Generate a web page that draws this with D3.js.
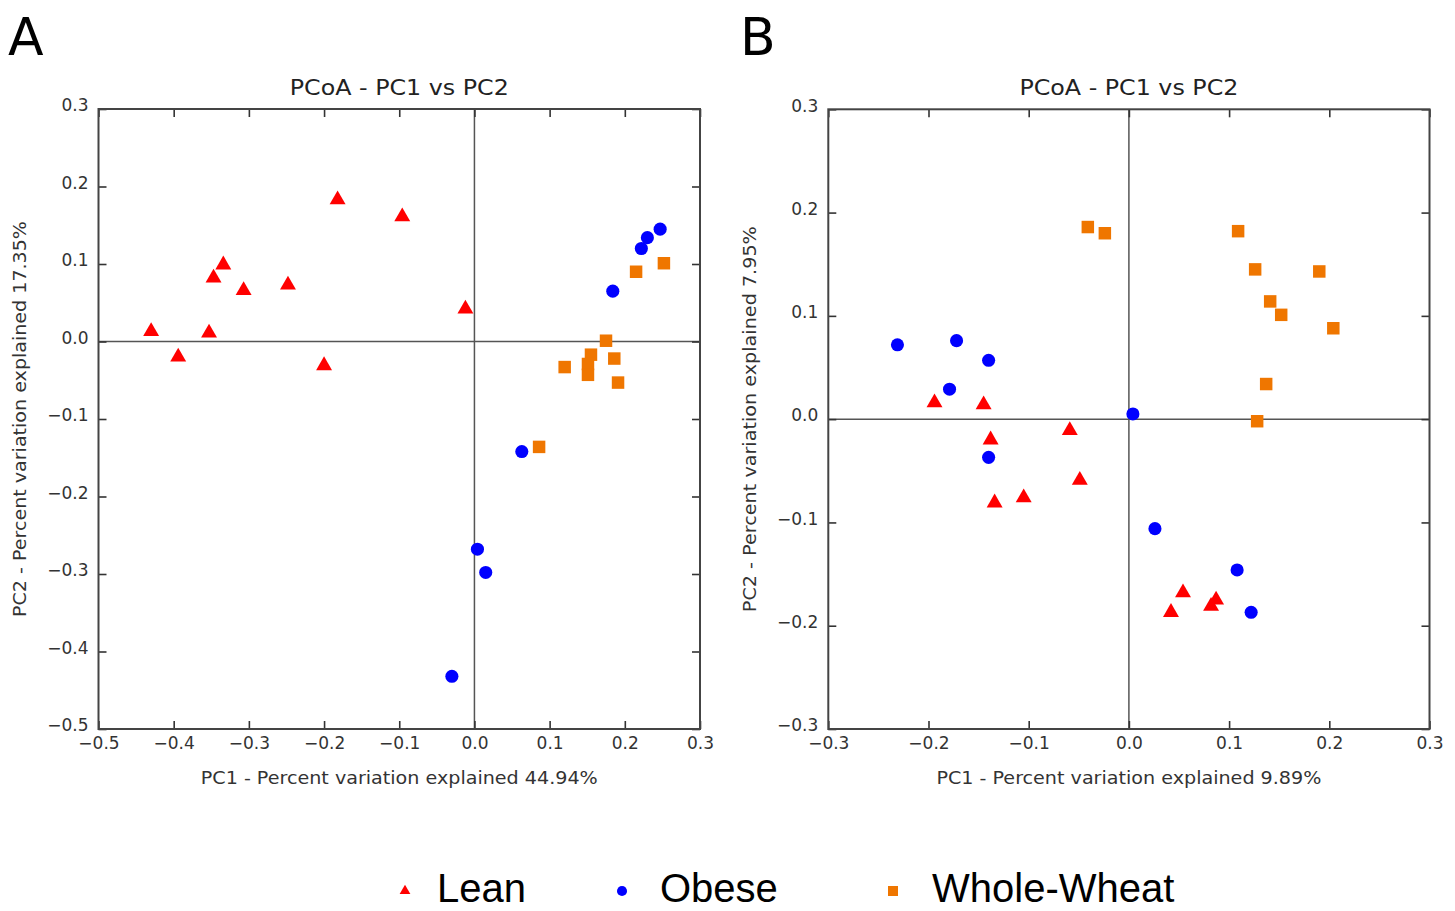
<!DOCTYPE html>
<html>
<head>
<meta charset="utf-8">
<script src="https://cdn.jsdelivr.net/npm/d3@7"></script>
<style>
  html, body { margin: 0; padding: 0; background: #fff; }
  svg { display: block; }
</style>
</head>
<body>
<svg id="chart" width="1455" height="911"></svg>
<script>
// ---------------- DATA ----------------
const groups = ["Lean", "Obese", "Whole-Wheat"];
const groupColors = ["#ff0000", "#0000ff", "#ef7600"];

// Panel A  (PC1, PC2)
const leanA = [[-0.430,0.013],[-0.394,-0.020],[-0.353,0.011],[-0.347,0.082],[-0.334,0.099],
  [-0.307,0.066],[-0.248,0.073],[-0.182,0.183],[-0.200,-0.031],[-0.096,0.161],[-0.012,0.042]];
const obeseA = [[0.247,0.145],[0.230,0.134],[0.222,0.120],[0.184,0.065],[0.063,-0.142],
  [0.004,-0.268],[0.015,-0.298],[-0.030,-0.432]];
const wheatA = [[0.252,0.101],[0.215,0.090],[0.175,0.001],[0.155,-0.017],[0.151,-0.029],
  [0.151,-0.043],[0.186,-0.022],[0.120,-0.033],[0.191,-0.053],[0.086,-0.136]];

// Panel B  (PC1, PC2)
const leanB = [[-0.194,0.016],[-0.145,0.014],[-0.138,-0.020],[-0.059,-0.011],[-0.049,-0.059],
  [-0.105,-0.076],[-0.134,-0.081],[0.054,-0.168],[0.042,-0.187],[0.087,-0.175],[0.082,-0.181]];
const obeseB = [[-0.231,0.072],[-0.172,0.076],[-0.140,0.057],[-0.179,0.029],[0.004,0.005],
  [-0.140,-0.037],[0.026,-0.106],[0.108,-0.146],[0.122,-0.187]];
const wheatB = [[-0.041,0.186],[-0.024,0.180],[0.109,0.182],[0.126,0.145],[0.190,0.143],
  [0.141,0.114],[0.152,0.101],[0.204,0.088],[0.137,0.034],[0.128,-0.002]];

const ticksA_x = [-0.5,-0.4,-0.3,-0.2,-0.1,0.0,0.1,0.2,0.3];
const ticksA_y = [-0.5,-0.4,-0.3,-0.2,-0.1,0.0,0.1,0.2,0.3];
const ticksB_x = [-0.3,-0.2,-0.1,0.0,0.1,0.2,0.3];
const ticksB_y = [-0.3,-0.2,-0.1,0.0,0.1,0.2,0.3];

const titleText = "PCoA - PC1 vs PC2";
const xLabelA = "PC1 - Percent variation explained 44.94%";
const yLabelA = "PC2 - Percent variation explained 17.35%";
const xLabelB = "PC1 - Percent variation explained 9.89%";
const yLabelB = "PC2 - Percent variation explained 7.95%";

// ---------------- DRAW ----------------
const svg = d3.select("#chart");
const FONT = "'DejaVu Sans', sans-serif";
const symbols = [d3.symbolTriangle, d3.symbolCircle, d3.symbolSquare];
const markerSizes = [110, 135, 156];
const fmt = d3.format(".1f");

function panel(opts) {
  const {x0, x1, y0, y1, xDom, yDom, xt, yt, data, letter, letterX, xLab, yLab, xLabLen, yLabLen, yLabX} = opts;
  const x = d3.scaleLinear().domain(xDom).range([x0, x1]);
  const y = d3.scaleLinear().domain(yDom).range([y1, y0]);
  const g = svg.append("g");

  // zero lines
  g.append("line").attr("x1", x0).attr("x2", x1).attr("y1", y(0)).attr("y2", y(0))
    .attr("stroke", "#555").attr("stroke-width", 1.5);
  g.append("line").attr("x1", x(0)).attr("x2", x(0)).attr("y1", y0).attr("y2", y1)
    .attr("stroke", "#555").attr("stroke-width", 1.5);

  // axes with inward ticks
  const styleAxis = sel => {
    sel.select(".domain").remove();
    sel.selectAll(".tick line").attr("stroke", "#333").attr("stroke-width", 1.6);
    sel.selectAll(".tick text").attr("fill", "#333").attr("font-family", FONT).attr("font-size", 17);
  };
  g.append("g").attr("transform", `translate(0,${y1})`)
    .call(d3.axisBottom(x).tickValues(xt).tickFormat(fmt).tickSizeInner(-8).tickSizeOuter(0).tickPadding(8))
    .call(styleAxis);
  g.append("g").attr("transform", `translate(0,${y0})`)
    .call(d3.axisTop(x).tickValues(xt).tickFormat("").tickSizeInner(-8).tickSizeOuter(0))
    .call(styleAxis);
  g.append("g").attr("transform", `translate(${x0},0)`)
    .call(d3.axisLeft(y).tickValues(yt).tickFormat(fmt).tickSizeInner(-8).tickSizeOuter(0).tickPadding(10))
    .call(styleAxis)
    .call(s => s.selectAll(".tick text").attr("dy", "0.1em"));
  g.append("g").attr("transform", `translate(${x1},0)`)
    .call(d3.axisRight(y).tickValues(yt).tickFormat("").tickSizeInner(-8).tickSizeOuter(0))
    .call(styleAxis);

  // frame
  g.append("rect").attr("x", x0).attr("y", y0).attr("width", x1 - x0).attr("height", y1 - y0)
    .attr("fill", "none").attr("stroke", "#444").attr("stroke-width", 2);

  // points
  data.forEach((pts, i) => {
    g.append("g").selectAll("path").data(pts).join("path")
      .attr("transform", d => `translate(${x(d[0])},${y(d[1])})`)
      .attr("d", d3.symbol().type(symbols[i]).size(markerSizes[i]))
      .attr("fill", groupColors[i]);
  });

  // title
  g.append("text").attr("x", (x0 + x1) / 2).attr("y", 95).attr("text-anchor", "middle")
    .attr("font-family", FONT).attr("font-size", 22).attr("fill", "#222")
    .attr("textLength", 219).attr("lengthAdjust", "spacingAndGlyphs").text(titleText);
  // x label
  g.append("text").attr("x", (x0 + x1) / 2).attr("y", 784).attr("text-anchor", "middle")
    .attr("font-family", FONT).attr("font-size", 18).attr("fill", "#333")
    .attr("textLength", xLabLen).attr("lengthAdjust", "spacingAndGlyphs").text(xLab);
  // y label
  g.append("text").attr("transform", `translate(${yLabX},${(y0 + y1) / 2}) rotate(-90)`)
    .attr("text-anchor", "middle").attr("font-family", FONT).attr("font-size", 18).attr("fill", "#333")
    .attr("textLength", yLabLen).attr("lengthAdjust", "spacingAndGlyphs").text(yLab);
  // panel letter
  svg.append("text").attr("x", letterX).attr("y", 55).attr("font-family", FONT)
    .attr("font-size", 52).attr("fill", "#000").text(letter);
}

panel({x0: 98.5, x1: 700, y0: 109, y1: 729, xDom: [-0.5, 0.3], yDom: [-0.5, 0.3],
  xt: ticksA_x, yt: ticksA_y, data: [leanA, obeseA, wheatA], letter: "A", letterX: 8,
  xLab: xLabelA, yLab: yLabelA, xLabLen: 397, yLabLen: 396, yLabX: 26});
panel({x0: 828.3, x1: 1429.5, y0: 109.3, y1: 729, xDom: [-0.3, 0.3], yDom: [-0.3, 0.3],
  xt: ticksB_x, yt: ticksB_y, data: [leanB, obeseB, wheatB], letter: "B", letterX: 740,
  xLab: xLabelB, yLab: yLabelB, xLabLen: 385, yLabLen: 386, yLabX: 756});

// legend
const legendX = [405, 622, 893];
const legendTextX = [437, 660, 932];
const legendSizes = [50, 80, 100];
groups.forEach((name, i) => {
  svg.append("path").attr("transform", `translate(${legendX[i]},${891})`)
    .attr("d", d3.symbol().type(symbols[i]).size(legendSizes[i])).attr("fill", groupColors[i]);
  svg.append("text").attr("x", legendTextX[i]).attr("y", 902)
    .attr("font-family", "'Liberation Sans', Arial, sans-serif").attr("font-size", 40)
    .attr("fill", "#000").text(name);
});
</script>
</body>
</html>
